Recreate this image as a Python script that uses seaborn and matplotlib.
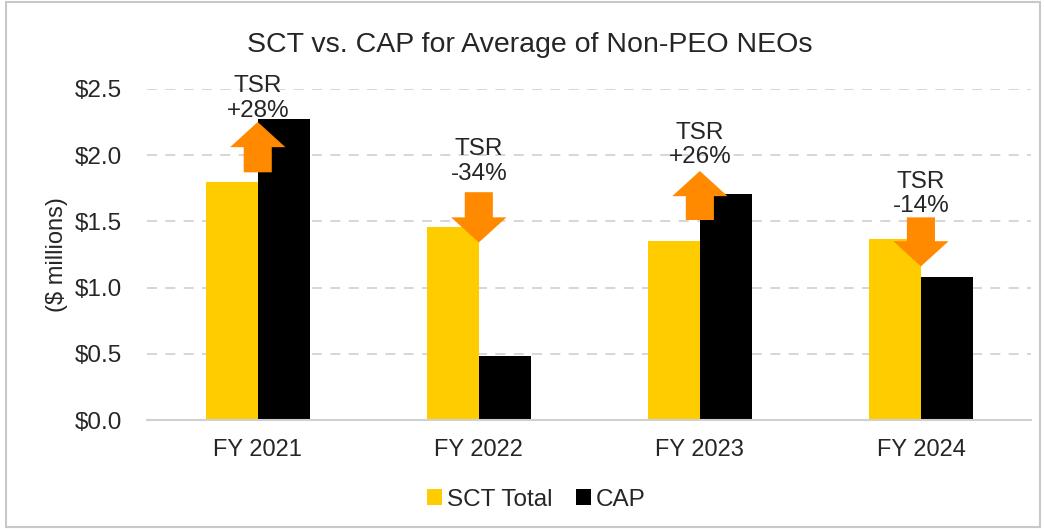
import pandas as pd
import matplotlib.pyplot as plt
import matplotlib.patches as mpatches
import seaborn as sns

# dados
anos = ['FY 2021', 'FY 2022', 'FY 2023', 'FY 2024']
sct_total = [1.80, 1.46, 1.35, 1.37]
cap = [2.27, 0.48, 1.71, 1.08]
tsr = ['+28%', '-34%', '+26%', '-14%']

# posição das setas (base, ponta) e dos textos, em $ milhões
seta_base = [1.87, 1.72, 1.51, 1.53]
seta_ponta = [2.25, 1.34, 1.88, 1.16]
texto_y = [2.25, 1.775, 1.90, 1.53]

df = pd.DataFrame({
    'ano': anos * 2,
    'valor': sct_total + cap,
    'serie': ['SCT Total'] * 4 + ['CAP'] * 4,
})

sns.set_style('white')
plt.rcParams['font.family'] = ['Liberation Sans', 'DejaVu Sans']

fig = plt.figure(figsize=(10.44, 5.29), dpi=100)
ax = fig.add_axes([0.141, 0.206, 0.847, 0.626])

sns.barplot(data=df, x='ano', y='valor', hue='serie', ax=ax,
            palette={'SCT Total': '#FFCC00', 'CAP': '#000000'},
            width=0.47, gap=0, saturation=1, edgecolor='none')

ax.set_ylim(0, 2.5)
ax.set_xlim(-0.5, 3.5)
ax.set_yticks([0, 0.5, 1.0, 1.5, 2.0, 2.5])
ax.set_yticklabels([f'${v:.1f}' for v in [0, 0.5, 1.0, 1.5, 2.0, 2.5]], fontsize=17.5)
ax.tick_params(axis='x', labelsize=17, length=0, pad=14)
ax.tick_params(axis='y', length=0, pad=18)
ax.set_xlabel('')
ax.set_ylabel('($ millions)', fontsize=17, labelpad=0)
ax.yaxis.set_label_coords(-0.09, 0.5)
ax.yaxis.grid(True, color='#d0d0d0', linestyle=(0, (6, 5)), linewidth=1.2)
ax.set_axisbelow(True)
for lado in ['top', 'right', 'left']:
    ax.spines[lado].set_visible(False)
ax.spines['bottom'].set_color('#d0d0d0')
ax.spines['bottom'].set_linewidth(1.5)

# setas e rótulos de TSR
for i in range(len(anos)):
    seta = mpatches.FancyArrow(i, seta_base[i], 0, seta_ponta[i] - seta_base[i],
                               width=0.127, head_width=0.25, head_length=0.19,
                               length_includes_head=True, color='#FF8A00',
                               linewidth=0, zorder=5, clip_on=False)
    ax.add_patch(seta)
    ax.text(i, texto_y[i], f'TSR\n{tsr[i]}', ha='center', va='bottom',
            fontsize=17.5, linespacing=1.15, zorder=6, clip_on=False)

fig.text(0.507, 0.915, 'SCT vs. CAP for Average of Non-PEO NEOs',
         fontsize=20.5, ha='center', va='center')

ax.legend(loc='center', bbox_to_anchor=(0.44, -0.24), ncol=2,
          frameon=False, fontsize=17.5, handlelength=0.6, handleheight=0.6,
          handletextpad=0.2, columnspacing=1.0)

fig.patches.append(mpatches.Rectangle((0.006, 0.004), 0.99, 0.992,
                                      transform=fig.transFigure, fill=False,
                                      edgecolor='#c8c8c8', linewidth=1.5))

plt.savefig('out.png', dpi=100)
